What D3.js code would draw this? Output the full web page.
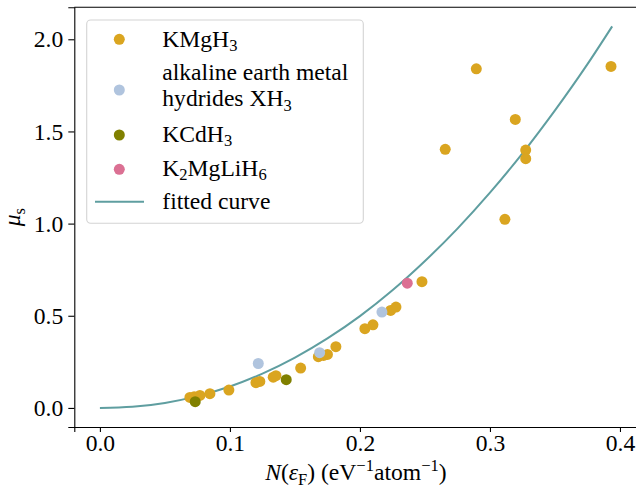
<!DOCTYPE html>
<html><head><meta charset="utf-8">
<script src="https://cdn.jsdelivr.net/npm/d3@7"></script>
<style>
body{margin:0;background:#fff;}
svg{display:block;}
svg text{font-family:"Liberation Serif","Times New Roman",Times,"Nimbus Roman","Noto Serif","DejaVu Serif",serif !important;}
</style></head>
<body><svg id="c" width="636" height="491"></svg>
<script>
// KMgH3 points [N(eF), mu_s]
const kmghN  = [0.0692,0.0725,0.0769,0.0846,0.0992,0.1200,0.1230,0.1333,0.1354,0.1544,0.1680,0.1720,0.1750,0.1815,0.2038,0.2100,0.2236,0.2277,0.2477,0.2656,0.2895,0.3115,0.3195,0.3275,0.3275,0.3931];
const kmghMu = [0.057,0.060,0.068,0.077,0.097,0.137,0.144,0.167,0.175,0.216,0.278,0.285,0.290,0.332,0.430,0.451,0.529,0.547,0.685,1.403,1.840,1.023,1.565,1.399,1.352,1.853];
// alkaline earth metal hydrides XH3
const aeN  = [0.1218,0.1690,0.2169];
const aeMu = [0.241,0.300,0.520];
// KCdH3
const kcdN  = [0.0733,0.1433];
const kcdMu = [0.034,0.153];
// K2MgLiH6
const k2N  = [0.2364];
const k2Mu = [0.677];
// fitted curve
const fitN  = [0.000,0.025,0.050,0.075,0.100,0.125,0.150,0.175,0.200,0.225,0.250,0.275,0.300,0.325,0.350,0.375,0.394];
const fitMu = [0.000,0.006,0.027,0.064,0.116,0.186,0.273,0.377,0.498,0.638,0.797,0.973,1.168,1.381,1.614,1.865,2.070];
const xTicks = [0.0,0.1,0.2,0.3,0.4];
const yTicks = [0.0,0.5,1.0,1.5,2.0];

const colors = {kmg:"#DAA520", ae:"#B0C4DE", kcd:"#808000", k2:"#DB7093", fit:"#5F9EA0"};

const svg = d3.select("#c");
const L=74.3, R=637.4, T=7.3, B=427;
const x = d3.scaleLinear().domain([-0.0197,0.4134]).range([L,R]);
const y = d3.scaleLinear().domain([-0.1035,2.1735]).range([B,T]);
const FS = 23.6;

// axes
const xa = svg.append("g").attr("transform",`translate(0,${B})`)
  .call(d3.axisBottom(x).tickValues(xTicks).tickFormat(d3.format(".1f")).tickSizeOuter(0).tickSize(5).tickPadding(2));
const ya = svg.append("g").attr("transform",`translate(${L},0)`)
  .call(d3.axisLeft(y).tickValues(yTicks).tickFormat(d3.format(".1f")).tickSizeOuter(0).tickSize(6).tickPadding(5));
[xa,ya].forEach(g=>{
  g.attr("font-family",null).attr("font-size",FS);
  g.select(".domain").attr("stroke","#000").attr("stroke-width",1.1);
  g.selectAll(".tick line").attr("stroke","#000").attr("stroke-width",1.1);
  g.selectAll(".tick text").attr("font-size",FS).attr("fill","#000");
});
// top spine
svg.append("line").attr("x1",L).attr("x2",R).attr("y1",T).attr("y2",T).attr("stroke","#000").attr("stroke-width",1.1);

// fitted curve
const line = d3.line().x((d,i)=>x(fitN[i])).y((d,i)=>y(fitMu[i])).curve(d3.curveMonotoneX);
svg.append("path").datum(fitN).attr("d",line).attr("fill","none").attr("stroke",colors.fit).attr("stroke-width",2);

function scatter(N,M,col){
  svg.append("g").selectAll("circle").data(N).join("circle")
    .attr("cx",(d)=>x(d)).attr("cy",(d,i)=>y(M[i])).attr("r",5.5).attr("fill",col);
}
scatter(kmghN,kmghMu,colors.kmg);
scatter(aeN,aeMu,colors.ae);
scatter(kcdN,kcdMu,colors.kcd);
scatter(k2N,k2Mu,colors.k2);

// legend
const lg = svg.append("g");
lg.append("rect").attr("x",86.7).attr("y",20).attr("width",276.6).attr("height",203.3)
  .attr("rx",4).attr("fill","#fff").attr("fill-opacity",0.8).attr("stroke","#d4d4d4").attr("stroke-width",1.1);
const mx=119.3, tx=162.3;
function sub(t, s){ t.append("tspan").attr("font-size",FS*0.7).attr("dy",4.5).text(s); }
lg.append("circle").attr("cx",mx).attr("cy",39.3).attr("r",5.5).attr("fill",colors.kmg);
let t=lg.append("text").attr("x",tx).attr("y",46.5).attr("font-size",FS);
t.append("tspan").text("KMgH"); sub(t,"3");
lg.append("circle").attr("cx",mx).attr("cy",90).attr("r",5.5).attr("fill",colors.ae);
lg.append("text").attr("x",tx).attr("y",80).attr("font-size",FS).text("alkaline earth metal");
t=lg.append("text").attr("x",tx).attr("y",106).attr("font-size",FS);
t.append("tspan").text("hydrides XH"); sub(t,"3");
lg.append("circle").attr("cx",mx).attr("cy",135).attr("r",5.5).attr("fill",colors.kcd);
t=lg.append("text").attr("x",tx).attr("y",141.7).attr("font-size",FS);
t.append("tspan").text("KCdH"); sub(t,"3");
lg.append("circle").attr("cx",mx).attr("cy",169.3).attr("r",5.5).attr("fill",colors.k2);
t=lg.append("text").attr("x",tx).attr("y",175.5).attr("font-size",FS);
t.append("tspan").text("K"); sub(t,"2");
t.append("tspan").attr("dy",-4.5).text("MgLiH"); sub(t,"6");
lg.append("line").attr("x1",95).attr("x2",144).attr("y1",201.7).attr("y2",201.7).attr("stroke",colors.fit).attr("stroke-width",2);
lg.append("text").attr("x",tx).attr("y",209).attr("font-size",FS).text("fitted curve");

// x label
const xl = svg.append("text").attr("x",(L+R)/2).attr("y",480).attr("text-anchor","middle").attr("font-size",FS);
xl.append("tspan").attr("font-style","italic").text("N");
xl.append("tspan").text("(");
xl.append("tspan").attr("font-style","italic").text("ε");
xl.append("tspan").attr("font-size",FS*0.7).attr("dy",4.5).text("F");
xl.append("tspan").attr("dy",-4.5).text(") (eV");
xl.append("tspan").attr("font-size",FS*0.7).attr("dy",-9).text("−1");
xl.append("tspan").attr("dy",9).text("atom");
xl.append("tspan").attr("font-size",FS*0.7).attr("dy",-9).text("−1");
xl.append("tspan").attr("dy",9).text(")");

// y label
const yl = svg.append("text").attr("transform",`translate(20,${(T+B)/2}) rotate(-90)`).attr("text-anchor","middle").attr("font-size",FS);
yl.append("tspan").attr("font-style","italic").text("μ");
yl.append("tspan").attr("font-size",FS*0.7).attr("dy",4.5).text("s");
</script></body></html>
